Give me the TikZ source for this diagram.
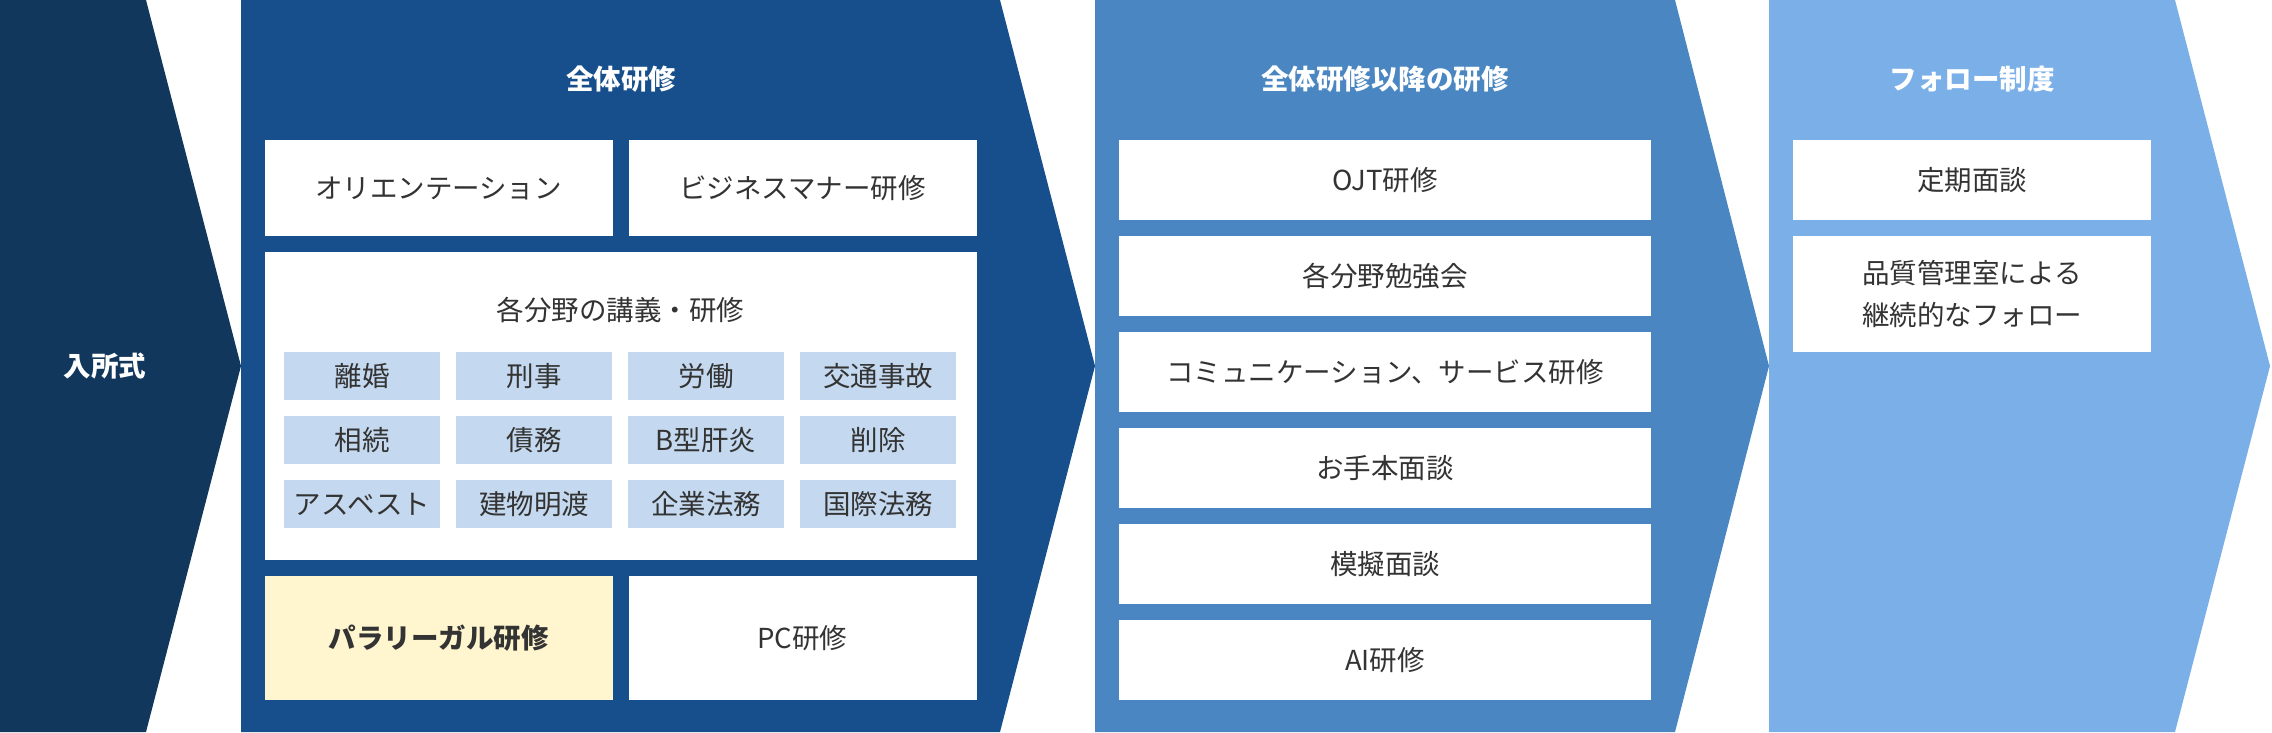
\documentclass[tikz,border=0pt]{standalone}
\usepackage{fontspec}
\setmainfont{Noto Sans CJK JP}
\definecolor{navy}{HTML}{12375C}
\definecolor{deepblue}{HTML}{174F8C}
\definecolor{midblue}{HTML}{4A86C1}
\definecolor{skyblue}{HTML}{7AAFE8}
\definecolor{cellblue}{HTML}{C4D9EF}
\definecolor{paleyellow}{HTML}{FFF6D0}
\definecolor{ink}{HTML}{333333}
\begin{document}
\begin{tikzpicture}[x=1pt, y=-1pt]
        \tikzset{heading/.style={text=white, font=\fontsize{27.5}{34}\selectfont\bfseries},
                 card/.style={fill=white, text=ink, inner sep=0, align=center, font=\fontsize{27.5}{42}\selectfont},
                 cell/.style={fill=cellblue, text=ink, inner sep=0, minimum width=156, minimum height=48, font=\fontsize{27.5}{34}\selectfont}}
        \useasboundingbox (0, 0) rectangle (2272, 732);
        \fill [navy] (0, 0) -- (146, 0) -- (241, 366) -- (146, 732) -- (0, 732) -- cycle;
        \fill [deepblue] (241, 0) -- (1000, 0) -- (1095, 366) -- (1000, 732) -- (241, 732) -- cycle;
        \fill [midblue] (1095, 0) -- (1675, 0) -- (1769, 366) -- (1675, 732) -- (1095, 732) -- cycle;
        \fill [skyblue] (1769, 0) -- (2175, 0) -- (2270, 366) -- (2175, 732) -- (1769, 732) -- cycle;
        \node [heading] (entry) at (105, 366) {入所式};
        \node [heading] (whole) at (621, 79) {全体研修};
        \node [card, minimum width=348, minimum height=96] (orient) at (438.5, 188) {オリエンテーション};
        \node [card, minimum width=348, minimum height=96] (manner) at (802.5, 188) {ビジネスマナー研修};
        \node [card, minimum width=712, minimum height=308] (fields) at (620.5, 406) {};
        \node [text=ink, font=\fontsize{27.5}{34}\selectfont] (fieldstitle) at (620.5, 310) {各分野の講義・研修};
        \foreach \t [count=\i from 0] in {離婚, 刑事, 労働, 交通事故}
            \node [cell] (row1-\i) at (362 + 172*\i, 376) {\t};
        \foreach \t [count=\i from 0] in {相続, 債務, B型肝炎, 削除}
            \node [cell] (row2-\i) at (362 + 172*\i, 440) {\t};
        \foreach \t [count=\i from 0] in {アスベスト, 建物明渡, 企業法務, 国際法務}
            \node [cell] (row3-\i) at (362 + 172*\i, 504) {\t};
        \node [card, fill=paleyellow, minimum width=348, minimum height=124, font=\fontsize{27.5}{34}\selectfont\bfseries] (paralegal) at (438.5, 638) {パラリーガル研修};
        \node [card, minimum width=348, minimum height=124] (pc) at (802.5, 638) {PC研修};
        \node [heading] (after) at (1385, 79) {全体研修以降の研修};
        \foreach \t [count=\i from 0] in {OJT研修, 各分野勉強会, コミュニケーション、サービス研修, お手本面談, 模擬面談, AI研修}
            \node [card, minimum width=532, minimum height=80] (after-\i) at (1385, 180 + 96*\i) {\t};
        \node [heading] (follow) at (1972, 79) {フォロー制度};
        \node [card, minimum width=358, minimum height=80] (interview) at (1972, 180) {定期面談};
        \node [card, minimum width=358, minimum height=116] (quality) at (1972, 294) {品質管理室による\\継続的なフォロー};
    \end{tikzpicture}
\end{document}
